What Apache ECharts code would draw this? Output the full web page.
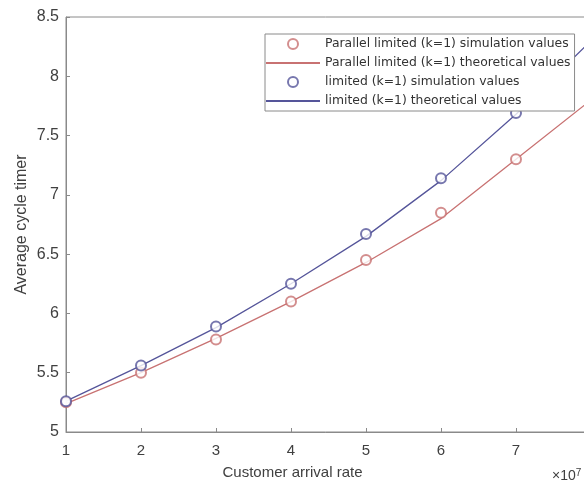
<!DOCTYPE html>
<html>
<head>
<meta charset="utf-8">
<script src="https://cdn.jsdelivr.net/npm/echarts@6/dist/echarts.min.js"></script>
<style>
  html, body { margin: 0; padding: 0; background: #fff; }
  #chart { width: 584px; height: 481px; }
</style>
</head>
<body>
<div id="chart"></div>
<script>
  // arrival rate (x1e7)
  var arrivalRates = [1, 2, 3, 4, 5, 6, 7, 8];
  var simRates = [1, 2, 3, 4, 5, 6, 7];

  // parallel limited (k=1)
  var parallelSim = [5.25, 5.50, 5.78, 6.10, 6.45, 6.85, 7.30];
  var parallelTheory = [5.24, 5.50, 5.79, 6.10, 6.43, 6.80, 7.30, 7.80];

  // limited (k=1)
  var limitedSim = [5.26, 5.56, 5.89, 6.25, 6.67, 7.14, 7.69];
  var limitedTheory = [5.26, 5.56, 5.88, 6.25, 6.65, 7.12, 7.68, 8.30];

  var seriesNames = [
    'Parallel limited (k=1) simulation values',
    'Parallel limited (k=1) theoretical values',
    'limited (k=1) simulation values',
    'limited (k=1) theoretical values'
  ];

  function pairs(xs, ys) {
    return ys.map(function (y, i) { return [xs[i], y]; });
  }

  var redColor = '#c87272';
  var blueColor = '#55559a';

  var myChart = echarts.init(document.getElementById('chart'));
  var option = {
    animation: false,
    textStyle: { fontFamily: 'Liberation Sans, Arial, sans-serif' },
    grid: {
      left: 66,
      top: 17,
      bottom: 49,
      width: 525,
      outerBoundsMode: 'none',
      containLabel: false,
      show: true,
      borderColor: '#8a8a8a',
      borderWidth: 1
    },
    legend: {
      orient: 'vertical',
      left: 265,
      top: 34,
      padding: [3, 4, 3, 0],
      itemGap: 5,
      itemWidth: 54,
      itemHeight: 10,
      backgroundColor: '#fff',
      borderColor: '#8a8a8a',
      borderWidth: 1,
      textStyle: { fontSize: 12.4, color: '#333', fontFamily: 'DejaVu Sans', lineHeight: 14 },
      data: [
        { name: seriesNames[0] },
        { name: seriesNames[1], itemStyle: { opacity: 0 } },
        { name: seriesNames[2] },
        { name: seriesNames[3], itemStyle: { opacity: 0 } }
      ]
    },
    xAxis: {
      type: 'value',
      min: 1,
      max: 8,
      interval: 1,
      name: 'Customer arrival rate',
      nameLocation: 'middle',
      nameGap: 33,
      nameTextStyle: { fontSize: 15, color: '#404040', padding: [0, 72, 0, 0] },
      axisLine: { lineStyle: { color: '#8a8a8a' } },
      axisTick: { inside: true, length: 4, lineStyle: { color: '#8a8a8a' } },
      axisLabel: { fontSize: 15, color: '#404040', margin: 11 },
      splitLine: { show: false }
    },
    yAxis: {
      type: 'value',
      min: 5,
      max: 8.5,
      interval: 0.5,
      name: 'Average cycle timer',
      nameLocation: 'middle',
      nameGap: 36,
      nameMoveOverlap: false,
      nameTextStyle: { fontSize: 16, color: '#404040' },
      axisLine: { show: true, lineStyle: { color: '#8a8a8a' } },
      axisTick: { show: true, inside: true, length: 4, lineStyle: { color: '#8a8a8a' } },
      axisLabel: { fontSize: 16, color: '#404040', margin: 7 },
      splitLine: { show: false }
    },
    graphic: [
      {
        type: 'text',
        left: 552,
        top: 468,
        style: {
          text: '×10{sup|7}',
          fontSize: 14,
          fill: '#404040',
          rich: { sup: { fontSize: 10, verticalAlign: 'top', fill: '#404040', padding: [0, 0, 6, 0] } }
        }
      }
    ],
    series: [
      {
        name: seriesNames[0],
        type: 'scatter',
        symbol: 'emptyCircle',
        symbolSize: 10,
        itemStyle: { color: redColor, borderColor: redColor, borderWidth: 1.2 },
        data: pairs(simRates, parallelSim),
        z: 3
      },
      {
        name: seriesNames[1],
        type: 'line',
        symbol: 'none',
        lineStyle: { color: redColor, width: 1.3 },
        itemStyle: { color: redColor },
        data: pairs(arrivalRates, parallelTheory)
      },
      {
        name: seriesNames[2],
        type: 'scatter',
        symbol: 'emptyCircle',
        symbolSize: 10,
        itemStyle: { color: blueColor, borderColor: blueColor, borderWidth: 1.2 },
        data: pairs(simRates, limitedSim),
        z: 3
      },
      {
        name: seriesNames[3],
        type: 'line',
        symbol: 'none',
        lineStyle: { color: blueColor, width: 1.3 },
        itemStyle: { color: blueColor },
        data: pairs(arrivalRates, limitedTheory)
      }
    ]
  };
  myChart.setOption(option);
</script>
</body>
</html>
